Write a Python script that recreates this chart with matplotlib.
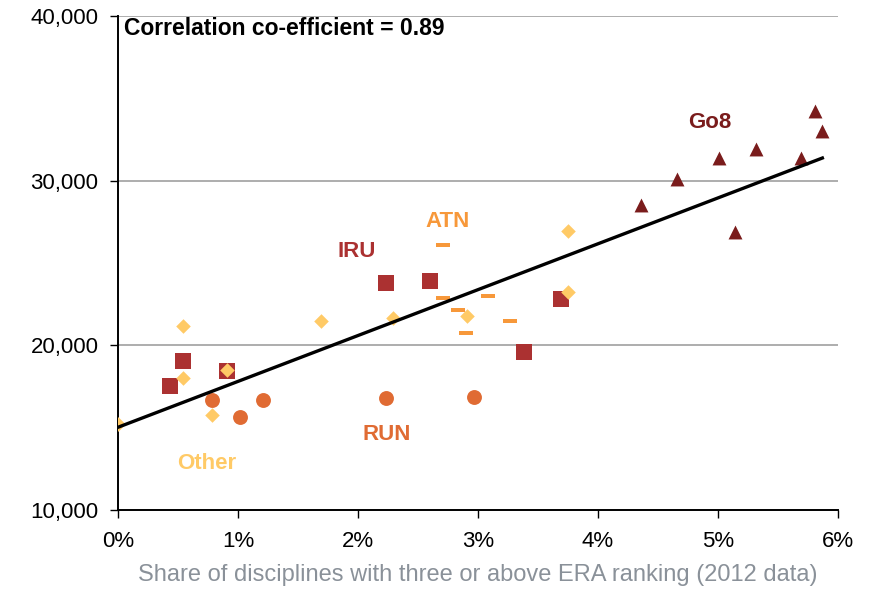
import numpy as np
import matplotlib
matplotlib.use('Agg')
import matplotlib.pyplot as plt

plt.rcParams['font.family'] = ['Liberation Sans', 'DejaVu Sans']

# Share of disciplines (%) and value per group
go8_x = [4.36, 4.66, 5.01, 5.32, 5.69, 5.81, 5.87, 5.14]
go8_y = [28500, 30100, 31400, 31900, 31400, 34200, 33000, 26900]

iru_x = [0.43, 0.54, 0.91, 2.23, 2.60, 3.38, 3.69]
iru_y = [17500, 19050, 18450, 23800, 23900, 19600, 22800]

run_x = [0.78, 1.02, 1.21, 2.23, 2.97]
run_y = [16700, 15650, 16700, 16800, 16850]

atn_x = [2.71, 2.71, 2.83, 2.90, 3.08, 3.27]
atn_y = [26100, 22850, 22150, 20750, 23000, 21480]

other_x = [0.0, 0.54, 0.54, 0.78, 0.91, 1.69, 2.29, 2.91, 3.75, 3.75]
other_y = [15200, 21170, 18000, 15770, 18500, 21480, 21650, 21780, 26950, 23240]

x_ticks = [0, 1, 2, 3, 4, 5, 6]
y_ticks = [10000, 20000, 30000, 40000]

c_go8 = '#7a1c1c'
c_iru = '#ab3131'
c_run = '#e06b33'
c_atn = '#f7983a'
c_other = '#ffca66'

fig = plt.figure(figsize=(8.78, 5.90), dpi=100)
ax = fig.add_axes([0.1344, 0.1356, 0.82, 0.8373])

dash = [(-1, -0.32), (1, -0.32), (1, 0.32), (-1, 0.32)]

ax.scatter(other_x, other_y, marker='D', s=55, color=c_other, zorder=3, linewidths=0)
ax.scatter(iru_x, iru_y, marker='s', s=120, color=c_iru, zorder=2, linewidths=0)
ax.scatter(run_x, run_y, marker='o', s=115, color=c_run, zorder=3, linewidths=0)
ax.scatter(atn_x, atn_y, marker=dash, s=110, color=c_atn, zorder=3, linewidths=0)
ax.scatter(go8_x, go8_y, marker='^', s=100, color=c_go8, zorder=3, linewidths=0)

# trend line over all points
all_x = np.array(go8_x + iru_x + run_x + atn_x + other_x)
all_y = np.array(go8_y + iru_y + run_y + atn_y + other_y)
slope, intercept = np.polyfit(all_x, all_y, 1)
lx = np.array([0, max(all_x)])
ax.plot(lx, slope * lx + intercept, color='black', lw=2.4, zorder=4)

ax.text(0.05, 39250, 'Correlation co-efficient = 0.89', fontsize=16.5,
        fontweight='bold', va='center', ha='left')

lab = dict(fontsize=16, fontweight='bold', ha='center', va='center')
ax.text(4.93, 33550, 'Go8', color=c_go8, **lab)
ax.text(1.99, 25670, 'IRU', color=c_iru, **lab)
ax.text(2.75, 27490, 'ATN', color=c_atn, **lab)
ax.text(2.24, 14600, 'RUN', color=c_run, **lab)
ax.text(0.74, 12800, 'Other', color=c_other, **lab)

ax.set_xlim(0, 6)
ax.set_ylim(10000, 40000)
ax.set_xticks(x_ticks)
ax.set_xticklabels([f'{t}%' for t in x_ticks])
ax.set_yticks(y_ticks)
ax.set_yticklabels([f'{t:,}' for t in y_ticks])
ax.tick_params(axis='both', labelsize=16, direction='out', length=6, width=1)
ax.tick_params(axis='y', pad=8)
ax.tick_params(axis='x', pad=9)

ax.grid(axis='y', color='#a0a0a0', lw=1.2)
ax.set_axisbelow(True)
for s in ['top', 'right']:
    ax.spines[s].set_visible(False)
for s in ['left', 'bottom']:
    ax.spines[s].set_linewidth(1.4)

ax.set_xlabel('Share of disciplines with three or above ERA ranking (2012 data)',
              fontsize=17, color='#8a9199', labelpad=9)

fig.savefig('out.png', dpi=100)
